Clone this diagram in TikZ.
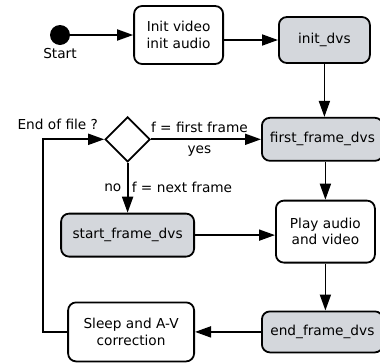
\documentclass[tikz,border=0pt]{standalone}
\usepackage{fontspec}
\setmainfont{DejaVu Sans}
\usepackage{tikz}
\usetikzlibrary{arrows.meta,positioning,shapes.geometric}
\definecolor{boxgray}{HTML}{D4D7DC}

\begin{document}
\begin{tikzpicture}[x=1pt,y=1pt,
  font=\fontsize{13.7}{16.5}\selectfont,
  box/.style={draw,line width=1.8pt,rounded corners=8pt,align=center,inner sep=2pt,fill=white},
  gbox/.style={box,fill=boxgray},
  arr/.style={-{Triangle[length=16pt,width=11pt]},line width=1.8pt}]
\useasboundingbox (0,0) rectangle (380,-362);
\node[circle,fill,inner sep=0,minimum size=20pt] (start) at (60,-35) {};
\node[below=3pt of start,inner sep=0] (startlbl) {Start};
\node[box,minimum width=89pt,minimum height=58pt,right=63pt of start] (init) {Init video\\init audio};
\node[gbox,minimum width=91pt,minimum height=46pt,right=54pt of init,yshift=-5pt] (dvs) {init\_dvs};
\node[gbox,minimum width=121pt,minimum height=43pt,below=53pt of dvs,xshift=-2pt] (first) {first\_frame\_dvs};
\node[draw,diamond,line width=1.8pt,inner sep=0,minimum width=45pt,minimum height=45pt,left=110pt of first] (dec) {};
\node[above left=9pt and 6pt of dec.west,inner sep=0] (eof) {End of file ?};
\node[gbox,minimum width=133pt,minimum height=43pt,below=50pt of dec] (sframe) {start\_frame\_dvs};
\node[box,minimum width=99pt,minimum height=62pt,below=38pt of first,xshift=3pt] (play) {Play audio\\and video};
\node[gbox,minimum width=121pt,minimum height=41pt,below=47pt of play,xshift=-3pt] (eframe) {end\_frame\_dvs};
\node[box,minimum width=126pt,minimum height=59pt,left=66pt of eframe] (sleep) {Sleep and A-V\\correction};
\draw[arr] (start)--(init);
\draw[arr] (init.east |- dvs.west)--(dvs.west);
\draw[arr] (dvs.south)--(dvs.south |- first.north);
\draw[arr] (dec.east)--node[pos=0.44,above=2pt]{f = first frame} node[pos=0.44,below=2pt]{yes} (first.west);
\draw[arr] (dec.south)--node[left=2pt]{no} node[right]{f = next frame} (sframe.north);
\draw[arr] (sframe.east)--(sframe.east -| play.west);
\draw[arr] (first.south -| play.north)--(play.north);
\draw[arr] (play.south)--(play.south |- eframe.north);
\draw[arr] (eframe.west)--(sleep.east);
\draw[arr] (sleep.west)-- ++(-24pt,0) |- (dec.west);
\end{tikzpicture}
\end{document}
